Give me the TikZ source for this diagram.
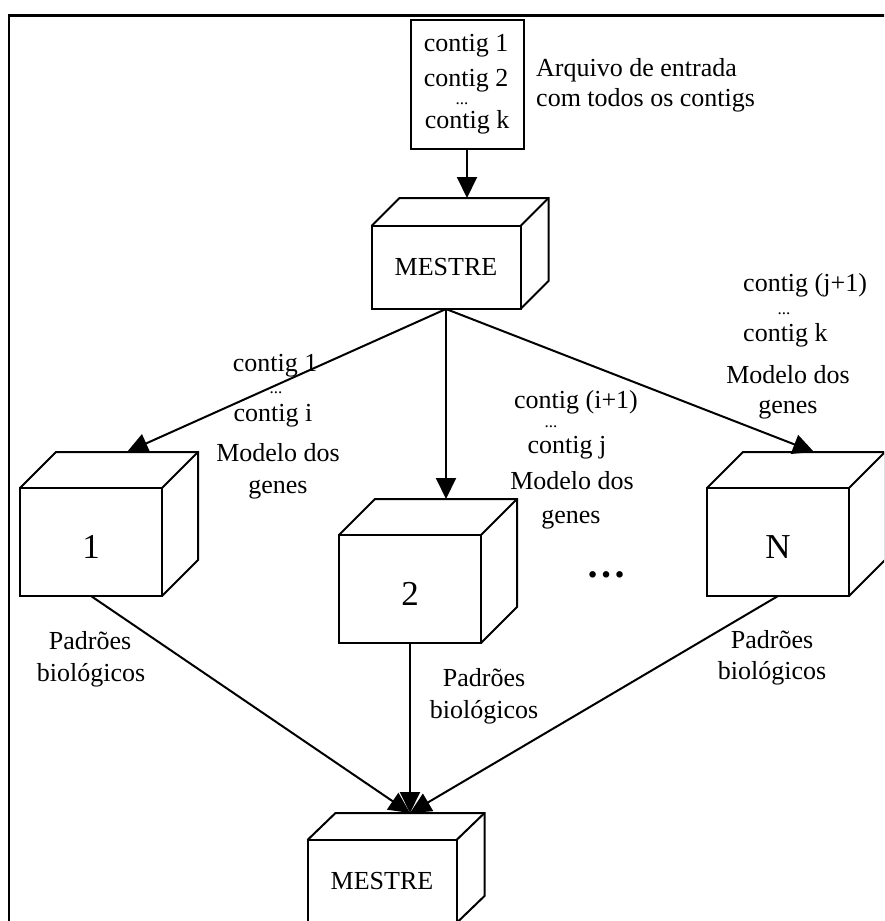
\documentclass[tikz,border=0pt]{standalone}
\usepackage{fontspec}
\setmainfont{Liberation Serif}
\usetikzlibrary{arrows.meta}
\tikzset{
  face/.style={draw, line width=2pt, fill=white, inner sep=0pt, outer sep=0pt,
    font=\fontsize{26}{30}\selectfont},
  mestre/.style={face, minimum width=149pt, minimum height=83pt},
  numbox/.style={face, minimum width=142pt, minimum height=108pt,
    font=\fontsize{35}{40}\selectfont, text height=33pt, text depth=0pt},
  txt/.style={inner sep=0pt, anchor=base, font=\fontsize{26}{30}\selectfont},
  txtw/.style={txt, anchor=base west},
  smalldots/.style={txt, font=\fontsize{17}{20}\selectfont},
  conn/.style={line width=2pt, -{Triangle[length=21pt,width=20pt]}},
}
\newcommand{\cubeback}[3]{%
  \draw[line width=2pt, line join=miter]
    (#1.north west) -- ([shift={(#2,-#3)}]#1.north west)
    -- ([shift={(#2,-#3)}]#1.north east)
    -- ([shift={(#2,-#3)}]#1.south east) -- (#1.south east);
  \draw[line width=2pt] (#1.north east) -- ([shift={(#2,-#3)}]#1.north east);
  \coordinate (#1-top) at ([shift={(#2,-#3)}]#1.north);
}
\begin{document}
\begin{tikzpicture}[x=1pt,y=-1pt]
\clip (0,0) rectangle (884,921);
\fill[white] (0,0) rectangle (884,921);
\draw[line width=2.6pt] (8.8,930) -- (8.8,15.3) -- (900,15.3);

% input box
\node[face, minimum width=113pt, minimum height=129pt] (inp) at (467,84) {};
\node[txt] (c1) at (466,51) {contig 1};
\node[txt] (c2) at (466,86) {contig 2};
\node[smalldots] (cd) at (462,104) {...};
\node[txt] (ck) at (467,128) {contig k};
\node[txtw] (arq1) at (536,76) {Arquivo de entrada};
\node[txtw] (arq2) at (536,106) {com todos os contigs};

% boxes
\node[mestre] (m1) at (446,267.5) {MESTRE};
\cubeback{m1}{28}{28}
\node[numbox] (b1) at (91,542) {1};
\cubeback{b1}{36}{36}
\node[numbox] (b2) at (410,589) {2};
\cubeback{b2}{36}{36}
\node[numbox] (bN) at (778,542) {N};
\cubeback{bN}{36}{36}
\node[mestre] (m2) at (382,881.5) {MESTRE};
\cubeback{m2}{28}{27}

% connectors
\draw[conn] (inp.south) -- (inp.south |- m1-top);
\draw[conn] (m1.south) -- (b1-top);
\draw[conn] (m1.south) -- (b2-top);
\draw[conn] (m1.south) -- (bN-top);
\draw[conn] (b1.south) -- (m2-top);
\draw[conn] (b2.south) -- (m2-top);
\draw[conn] (bN.south) -- (m2-top);

% left labels
\node[txt] (l1) at (275,371) {contig 1};
\node[smalldots] (l2) at (276,393) {...};
\node[txt] (l3) at (273,421) {contig i};
\node[txt] (l4) at (278,461) {Modelo dos};
\node[txt] (l5) at (278,493) {genes};

% middle labels
\node[txt] (ma) at (576,408) {contig (i+1)};
\node[smalldots] (mb) at (551,427) {...};
\node[txt] (mc) at (567,453) {contig j};
\node[txt] (md) at (572,489) {Modelo dos};
\node[txt] (me) at (571,523) {genes};

% right labels
\node[txtw] (r1) at (743,291) {contig (j+1)};
\node[smalldots] (r2) at (784,314) {...};
\node[txtw] (r3) at (743,341) {contig k};
\node[txt] (r4) at (788,383) {Modelo dos};
\node[txt] (r5) at (788,413) {genes};

% result labels
\node[txt] (p1a) at (90,649) {Padrões};
\node[txt] (p1b) at (91,681) {biológicos};
\node[txt] (p2a) at (484,686) {Padrões};
\node[txt] (p2b) at (484,718) {biológicos};
\node[txt] (p3a) at (772,648) {Padrões};
\node[txt] (p3b) at (772,679) {biológicos};

% ellipsis between boxes
\node[inner sep=0pt, font=\fontsize{40}{40}\selectfont\bfseries] (dots) at (606,575) {…};
\end{tikzpicture}
\end{document}
